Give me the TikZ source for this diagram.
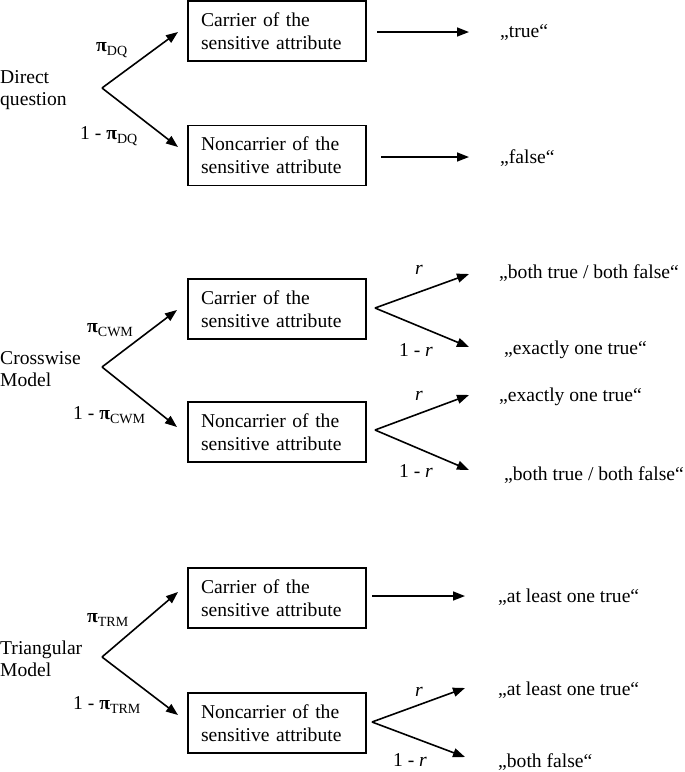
\documentclass[tikz,border=0pt]{standalone}
\usepackage{fontspec}
\setmainfont{Liberation Serif}
\usetikzlibrary{arrows.meta}
\tikzset{
  box/.style={draw, line width=1.4pt, text width=152pt, inner xsep=13pt, inner ysep=0pt,
    minimum height=60pt, align=left, font=\fontsize{19.6}{23}\selectfont},
  lbl/.style={inner sep=0pt, font=\fontsize{19.6}{22}\selectfont, align=left},
  arr/.style={line width=1.6pt, -{Triangle[length=12pt,width=9pt]}},
}
\newcommand{\PiSym}{\textbf{π}}
\newcommand{\SubT}[1]{\raisebox{-4.5pt}{\fontsize{14}{14}\selectfont #1}}
\begin{document}
\begin{tikzpicture}[x=1pt,y=-1pt]
\useasboundingbox (0,0) rectangle (685,772);

% ---------- Direct question ----------
\node[lbl, anchor=west] (m1) at (0,90) {Direct\\question};
\coordinate (b1) at (102,88);
\coordinate (t1a) at (178,32);
\coordinate (t1b) at (178,147);
\node[box] (c1) at (277,31) {Carrier of the\\sensitive attribute};
\node[box] (n1) at (277,155.5) {Noncarrier of the\\sensitive attribute};
\draw[arr] (b1) -- (t1a);
\draw[arr] (b1) -- (t1b);
\node[lbl, anchor=west] (p1) at (96,50) {\PiSym\SubT{DQ}};
\node[lbl, anchor=west] (q1) at (80,136) {1 - \PiSym\SubT{DQ}};
\node[lbl, anchor=west] (o1) at (500,32) {„true“};
\node[lbl, anchor=west] (o2) at (500,158) {„false“};
\coordinate (s1) at (377,32);
\coordinate (e1) at (469,32);
\coordinate (s2) at (381,157);
\coordinate (e2) at (469,157);
\draw[arr] (s1) -- (e1);
\draw[arr] (s2) -- (e2);

% ---------- Crosswise Model ----------
\node[lbl, anchor=west] (m2) at (0,369) {Crosswise\\Model};
\coordinate (b2) at (102,367);
\coordinate (t2a) at (177,310);
\coordinate (t2b) at (177,427);
\node[box] (c2) at (277,309) {Carrier of the\\sensitive attribute};
\node[box] (n2) at (277,432) {Noncarrier of the\\sensitive attribute};
\draw[arr] (b2) -- (t2a);
\draw[arr] (b2) -- (t2b);
\node[lbl, anchor=west] (p2) at (87,330) {\PiSym\SubT{CWM}};
\node[lbl, anchor=west] (q2) at (73,415) {1 - \PiSym\SubT{CWM}};

\coordinate (r2a) at (375,308);
\coordinate (u2a) at (469,274);
\coordinate (d2a) at (469,347);
\draw[arr] (r2a) -- (u2a);
\draw[arr] (r2a) -- (d2a);
\node[lbl] (ra) at (419,270) {\textit{r}};
\node[lbl] (rb) at (416,350) {1 - \textit{r}};
\node[lbl, anchor=west] (o3) at (499,273) {„both true / both false“};
\node[lbl, anchor=west] (o4) at (504,350) {„exactly one true“};

\coordinate (r2b) at (375,430);
\coordinate (u2b) at (469,395);
\coordinate (d2b) at (469,470);
\draw[arr] (r2b) -- (u2b);
\draw[arr] (r2b) -- (d2b);
\node[lbl] (rc) at (419,396) {\textit{r}};
\node[lbl] (rd) at (416,471) {1 - \textit{r}};
\node[lbl, anchor=west] (o5) at (499,397) {„exactly one true“};
\node[lbl, anchor=west] (o6) at (504,475) {„both true / both false“};

% ---------- Triangular Model ----------
\node[lbl, anchor=west] (m3) at (0,659) {Triangular\\Model};
\coordinate (b3) at (102,657);
\coordinate (t3a) at (178,592);
\coordinate (t3b) at (178,715);
\node[box] (c3) at (277,598) {Carrier of the\\sensitive attribute};
\node[box] (n3) at (277,723) {Noncarrier of the\\sensitive attribute};
\draw[arr] (b3) -- (t3a);
\draw[arr] (b3) -- (t3b);
\node[lbl, anchor=west] (p3) at (87,620) {\PiSym\SubT{TRM}};
\node[lbl, anchor=west] (q3) at (73,705) {1 - \PiSym\SubT{TRM}};

\coordinate (s3) at (372,596);
\coordinate (e3) at (465,596);
\draw[arr] (s3) -- (e3);
\node[lbl, anchor=west] (o7) at (498,597) {„at least one true“};

\coordinate (r3) at (372,722);
\coordinate (u3) at (465,688);
\coordinate (d3) at (465,757);
\draw[arr] (r3) -- (u3);
\draw[arr] (r3) -- (d3);
\node[lbl] (re) at (419,692) {\textit{r}};
\node[lbl] (rf) at (410,760) {1 - \textit{r}};
\node[lbl, anchor=west] (o8) at (498,690) {„at least one true“};
\node[lbl, anchor=west] (o9) at (498,762) {„both false“};
\end{tikzpicture}
\end{document}
